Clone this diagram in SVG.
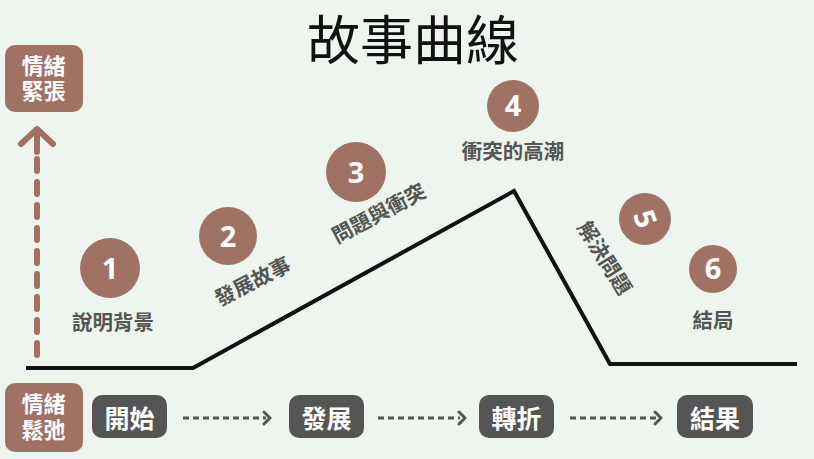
<svg xmlns="http://www.w3.org/2000/svg" width="814" height="459" viewBox="0 0 814 459">
<defs>
<style>
.cjk{font-family:"Noto Sans CJK TC","Noto Sans CJK SC",sans-serif;}
.title{font-size:53px;fill:#111;text-anchor:middle;dominant-baseline:central;}
.tag rect{fill:#A07264;}
.tag text{font-family:"Liberation Sans","Noto Sans CJK TC",sans-serif;font-size:22px;font-weight:bold;fill:#fff;text-anchor:middle;}
.step rect{fill:#555555;}
.step text{font-size:25px;font-weight:bold;fill:#fff;text-anchor:middle;dominant-baseline:central;}
.pt circle{fill:#A07264;}
.pt .num{font-family:"Noto Sans","Liberation Sans",sans-serif;font-size:29px;font-weight:bold;fill:#fff;text-anchor:middle;}
.pt .lbl{font-size:20.5px;font-weight:bold;fill:#555;text-anchor:middle;dominant-baseline:central;}
.curve{fill:none;stroke:#111;stroke-width:4;stroke-linejoin:miter;}
.flow{fill:none;stroke:#555;stroke-width:3;stroke-dasharray:6 4;}
.flowhead{fill:none;stroke:#555;stroke-width:3;stroke-linecap:round;stroke-linejoin:round;}
.axis{fill:none;stroke:#A07264;stroke-width:6;stroke-linecap:round;}
</style>
</defs>
<rect width="814" height="459" fill="#EDF5EE"/>
<g id="title"><text class="cjk title" x="413" y="37">故事曲線</text></g>

<g id="connectors">
<polyline class="curve" points="26,368 193,368 514,191 610,364 797,364"/>
<line class="axis" x1="37" y1="355" x2="37" y2="150" stroke-dasharray="12 11"/>
<line class="axis" x1="37" y1="152" x2="37" y2="130"/>
<polyline class="axis" points="21,144 37,129 53,144" stroke-linejoin="round"/>
<line class="flow" x1="183" y1="418" x2="266" y2="418"/>
<polyline class="flowhead" points="264,412 270,418 264,424"/>
<line class="flow" x1="378" y1="418" x2="460" y2="418"/>
<polyline class="flowhead" points="459,412 465,418 459,424"/>
<line class="flow" x1="570" y1="418" x2="656" y2="418"/>
<polyline class="flowhead" points="655,412 661,418 655,424"/>
</g>

<g id="tag-tense" class="tag">
<rect x="5" y="45" width="78" height="67" rx="10"/>
<text x="43.5" y="74">情緒</text>
<text x="43.5" y="99">緊張</text>
</g>
<g id="tag-relax" class="tag">
<rect x="5" y="383" width="78" height="69" rx="10"/>
<text x="43.5" y="412">情緒</text>
<text x="43.5" y="438">鬆弛</text>
</g>

<g id="step-start" class="step cjk"><rect x="92" y="395" width="75" height="43" rx="10"/><text x="129.5" y="417">開始</text></g>
<g id="step-develop" class="step cjk"><rect x="289" y="395" width="75" height="43" rx="10"/><text x="326.5" y="417">發展</text></g>
<g id="step-turn" class="step cjk"><rect x="479" y="395" width="75" height="43" rx="10"/><text x="516.5" y="417">轉折</text></g>
<g id="step-end" class="step cjk"><rect x="677" y="395" width="76" height="43" rx="10"/><text x="715" y="417">結果</text></g>

<g id="point-1" class="pt">
<circle cx="110" cy="268" r="30"/>
<text class="num" x="110" y="278.5">1</text>
<text class="lbl cjk" x="113" y="321">說明背景</text>
</g>
<g id="point-2" class="pt">
<circle cx="228" cy="236" r="29"/>
<text class="num" x="228" y="246.5">2</text>
<text class="lbl cjk" transform="translate(252,280) rotate(-27)">發展故事</text>
</g>
<g id="point-3" class="pt">
<circle cx="356" cy="172" r="30"/>
<text class="num" x="356" y="182.5">3</text>
<text class="lbl cjk" transform="translate(378,212) rotate(-28)">問題與衝突</text>
</g>
<g id="point-4" class="pt">
<circle cx="513" cy="106" r="26"/>
<text class="num" x="513" y="116">4</text>
<text class="lbl cjk" x="513" y="150">衝突的高潮</text>
</g>
<g id="point-5" class="pt">
<circle cx="645" cy="219" r="26"/>
<text class="num" transform="translate(645,219) rotate(70)" y="10">5</text>
<text class="lbl cjk" transform="translate(606,257) rotate(58)">解決問題</text>
</g>
<g id="point-6" class="pt">
<circle cx="713" cy="269" r="24"/>
<text class="num" x="713" y="279">6</text>
<text class="lbl cjk" x="713" y="319">結局</text>
</g>
</svg>
